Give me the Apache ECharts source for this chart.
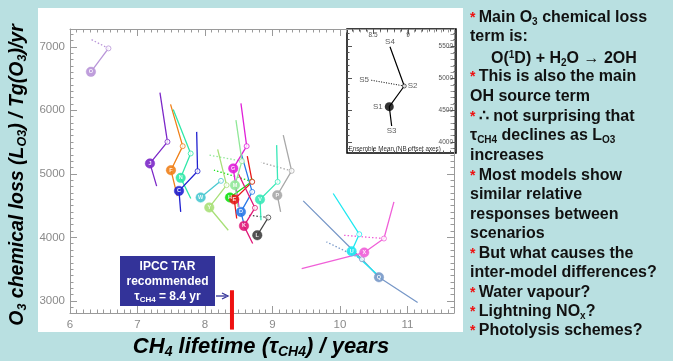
<!DOCTYPE html>
<html>
<head>
<meta charset="utf-8">
<script src="https://cdn.jsdelivr.net/npm/echarts@6/dist/echarts.min.js"></script>
<style>
  html, body { margin: 0; padding: 0; background: #b9e0e1; }
  #chart { width: 673px; height: 361px; }
</style>
</head>
<body>
<div id="chart"></div>
<script>
// Model letters (label inside each filled S1 marker)
const modelIds = ['O', 'J', 'F', 'N', 'C', 'W', 'Y', 'G', 'H', 'E', 'D', 'K', 'V', 'P', 'L', 'Q', 'U', 'X', 'M'];
const modelColors = ['#b894d8', '#7c28c8', '#f08018', '#30e8a8', '#2020d0', '#48c8d0', '#a8e078', '#e020d8', '#10e010',
  '#e81818', '#2878e8', '#e01878', '#38e8b8', '#a8a8a8', '#404040', '#7898c8', '#20e8f0', '#f060d8', '#90e898'];

// Scenario S1 (base) : CH4 lifetime (yr) and O3 chemical loss (Tg/yr)
const s1Tau  = [6.31, 7.185, 7.496, 7.64, 7.615, 7.936, 8.064, 8.419, 8.37, 8.434, 8.533, 8.578, 8.815, 9.071, 8.775, 10.578, 10.173, 10.36, 8.444];
const s1Loss = [6606, 5164, 5058, 4937, 4732, 4628, 4471, 5085, 4628, 4597, 4401, 4181, 4597, 4664, 4034, 3373, 3782, 3762, 4822];
// Scenario S2
const s2Tau  = [6.57, 7.444, 7.67, 7.788, 7.89, 8.237, 8.32, 8.618, 8.696, 8.70, 8.70, 8.741, 9.077, 9.284, 8.938, 10.326, 10.286, 10.652, 8.548];
const s2Loss = [6975, 5504, 5436, 5321, 5042, 4890, 4822, 5436, 4880, 4874, 4716, 4464, 4874, 5047, 4313, 3656, 4050, 3982, 5200];
// Scenario S3
const s3Tau  = [null, 7.284, 7.59, 7.79, 7.64, null, 8.345, 8.504, null, 8.47, 8.60, 8.707, 8.83, 9.121, null, 11.151, 10.618, 9.433, 8.49];
const s3Loss = [null, 4806, 4650, 4612, 4401, null, 4113, 4475, null, 4297, 4110, 3904, 4270, 4401, null, 2974, 3352, 3510, 4480];
// Scenario S4
const s4Tau  = [null, 7.333, 7.49, 7.53, 7.877, null, 8.188, 8.533, null, 8.627, 8.544, 8.493, 9.062, 9.16, null, 9.456, 9.90, 10.80, 8.459];
const s4Loss = [null, 6279, 6093, 6014, 5661, null, 5384, 6109, null, 5279, 5294, 5006, 5452, 5609, null, 4575, 4691, 4559, 5846];
// Scenario S5 (dotted from S2)
const s5Tau  = [6.31, null, null, null, null, null, null, null, 8.133, null, null, null, null, 8.83, 8.652, 9.80, null, 10.049, 8.064];
const s5Loss = [7117, null, null, null, null, null, null, null, 5058, null, null, null, null, 5179, 4349, 3929, null, 4034, 5295];

// Ensemble mean (inset)
const meanNames = ['S1', 'S2', 'S3', 'S4', 'S5'];
const meanTau  = [8.733, 8.947, 8.767, 8.743, 8.457];
const meanLoss = [4552, 4875, 4250, 5489, 4969];

// IPCC TAR recommended CH4 lifetime
const tarTau = 8.4;
const tarBar = [3168, 2549];

// Axis ticks
const xMajor = [6, 7, 8, 9, 10, 11];
const yMajor = [3000, 4000, 5000, 6000, 7000];
const insetXMajor = [8.5, 9];
const insetYMajor = [4000, 4500, 5000, 5500];

const X_MIN = 6, X_MAX = 11.69, Y_MIN = 2810, Y_MAX = 7280;
const IX_MIN = 8.129, IX_MAX = 9.686, IY_MIN = 3828, IY_MAX = 5766;

function steps(a, b, d) {
  const out = [];
  const n = Math.round((b - a) / d);
  for (let i = 0; i <= n; i++) out.push(+(a + i * d).toFixed(4));
  return out;
}
const xMinor = steps(6.1, 11.6, 0.1);
const yMinor = steps(2900, 7200, 100);
const ixMinor = steps(8.2, 9.6, 0.1);
const iyMinor = steps(3900, 5700, 100);

const AX = '#9a9a9a';
function axis(grid, pos, min, max, ticks, len, labels, opts) {
  opts = opts || {};
  return {
    type: 'value', gridIndex: grid, position: pos, min: min, max: max,
    splitLine: { show: false },
    axisLine: { show: !!opts.line, lineStyle: { color: opts.lineColor || AX, width: 1 } },
    axisTick: { show: true, inside: true, length: len, customValues: ticks, lineStyle: { color: opts.tickColor || AX } },
    axisLabel: labels ? { show: true, customValues: labels, color: opts.labelColor || '#8a8a8a', fontSize: opts.fontSize || 11.5,
      fontFamily: 'Liberation Sans, Arial, sans-serif', inside: !!opts.labelInside, margin: opts.margin || 6,
      formatter: v => String(v) } : { show: false }
  };
}

const xAxes = [
  axis(0, 'bottom', X_MIN, X_MAX, xMajor, 7, xMajor, { line: true, margin: 6 }),
  axis(0, 'bottom', X_MIN, X_MAX, xMinor, 3.5, null),
  axis(0, 'top', X_MIN, X_MAX, xMajor, 7, null, { line: true }),
  axis(0, 'top', X_MIN, X_MAX, xMinor, 3.5, null),
  axis(1, 'top', IX_MIN, IX_MAX, insetXMajor, 5, insetXMajor, { labelInside: true, fontSize: 6.5, labelColor: '#555', tickColor: '#555', margin: 3 }),
  axis(1, 'top', IX_MIN, IX_MAX, ixMinor, 2.5, null, { tickColor: '#555' }),
  axis(1, 'bottom', IX_MIN, IX_MAX, insetXMajor, 5, null, { tickColor: '#555' }),
  axis(1, 'bottom', IX_MIN, IX_MAX, ixMinor, 2.5, null, { tickColor: '#555' })
];
const yAxes = [
  axis(0, 'left', Y_MIN, Y_MAX, yMajor, 7, yMajor, { line: true, margin: 5 }),
  axis(0, 'left', Y_MIN, Y_MAX, yMinor, 3.5, null),
  axis(0, 'right', Y_MIN, Y_MAX, yMajor, 7, null, { line: true }),
  axis(0, 'right', Y_MIN, Y_MAX, yMinor, 3.5, null),
  axis(1, 'right', IY_MIN, IY_MAX, insetYMajor, 5, insetYMajor, { labelInside: true, fontSize: 6.5, labelColor: '#555', tickColor: '#555', margin: 3 }),
  axis(1, 'right', IY_MIN, IY_MAX, iyMinor, 2.5, null, { tickColor: '#555' }),
  axis(1, 'left', IY_MIN, IY_MAX, insetYMajor, 5, null, { tickColor: '#555' }),
  axis(1, 'left', IY_MIN, IY_MAX, iyMinor, 2.5, null, { tickColor: '#555' })
];

const pt = (t, l, i) => (t[i] == null ? null : [t[i], l[i]]);
const series = [];
modelIds.forEach((id, i) => {
  const c = modelColors[i];
  const p1 = pt(s1Tau, s1Loss, i), p2 = pt(s2Tau, s2Loss, i), p3 = pt(s3Tau, s3Loss, i),
        p4 = pt(s4Tau, s4Loss, i), p5 = pt(s5Tau, s5Loss, i);
  const path = [p3, p1, p2, p4].filter(Boolean);
  series.push({ type: 'line', xAxisIndex: 0, yAxisIndex: 0, data: path, symbol: 'none', silent: true,
    lineStyle: { color: c, width: 1.3 }, z: 3 });
  if (p5) series.push({ type: 'line', xAxisIndex: 0, yAxisIndex: 0, data: [p2, p5], symbol: 'none', silent: true,
    lineStyle: { color: c, width: 1.3, type: [1.5, 2] }, z: 2 });
  series.push({ type: 'scatter', xAxisIndex: 0, yAxisIndex: 0, data: [p2], symbol: 'circle', symbolSize: 5,
    itemStyle: { color: '#fff', borderColor: c, borderWidth: 1 }, z: 4 });
  series.push({ type: 'scatter', xAxisIndex: 0, yAxisIndex: 0, data: [p1], symbol: 'circle', symbolSize: 9.5,
    itemStyle: { color: c, borderColor: c, borderWidth: 0.5, opacity: 0.9 }, z: 5,
    label: { show: true, position: 'inside', formatter: id, fontSize: 5.5, color: '#fff', fontWeight: 'bold' } });
});

// IPCC TAR recommended lifetime bar
series.push({ type: 'line', xAxisIndex: 0, yAxisIndex: 0, data: tarBar.map(v => [tarTau, v]), symbol: 'none', clip: false,
  lineStyle: { color: '#ee1111', width: 4, cap: 'butt' }, z: 6 });

// Ensemble mean inset
const mp = n => [meanTau[meanNames.indexOf(n)], meanLoss[meanNames.indexOf(n)]];
series.push({ type: 'line', xAxisIndex: 4, yAxisIndex: 4, data: [mp('S3'), mp('S1'), mp('S2'), mp('S4')], symbol: 'none',
  lineStyle: { color: '#000', width: 1.2 }, z: 10 });
series.push({ type: 'line', xAxisIndex: 4, yAxisIndex: 4, data: [mp('S2'), mp('S5')], symbol: 'none',
  lineStyle: { color: '#000', width: 1, type: [1, 1.5] }, z: 10 });
series.push({ type: 'scatter', xAxisIndex: 4, yAxisIndex: 4, data: [mp('S1')], symbolSize: 9, itemStyle: { color: '#000' }, z: 11,
  label: { show: true, position: 'left', distance: 2, formatter: 'S1', fontSize: 8, color: '#333' } });
series.push({ type: 'scatter', xAxisIndex: 4, yAxisIndex: 4, data: [mp('S2')], symbolSize: 4, itemStyle: { color: '#fff', borderColor: '#000', borderWidth: 0.8 }, z: 11,
  label: { show: true, position: 'right', distance: 1, formatter: 'S2', fontSize: 8, color: '#333' } });
series.push({ type: 'scatter', xAxisIndex: 4, yAxisIndex: 4, data: [mp('S3')], symbolSize: 0.1, z: 11,
  label: { show: true, position: 'bottom', distance: 1, formatter: 'S3', fontSize: 8, color: '#333' } });
series.push({ type: 'scatter', xAxisIndex: 4, yAxisIndex: 4, data: [mp('S4')], symbolSize: 0.1, z: 11,
  label: { show: true, position: 'top', distance: 1, formatter: 'S4', fontSize: 8, color: '#333' } });
series.push({ type: 'scatter', xAxisIndex: 4, yAxisIndex: 4, data: [mp('S5')], symbolSize: 0.1, z: 11,
  label: { show: true, position: 'left', distance: 1, formatter: 'S5', fontSize: 8, color: '#333' } });

const F = 'Liberation Sans, Arial, sans-serif';
const R = '#ee1111';
function tok(size, col, extra) {
  return Object.assign({ fontSize: size, fontWeight: 'bold', fontFamily: F, fill: col, color: col }, extra || {});
}
const rich = {
  a: tok(16, '#111'),
  r: tok(14, R),
  s: tok(10, '#111', { padding: [8, 0, 0, 0] }),
  u: tok(10, '#111', { padding: [0, 0, 7, 0] })
};
const notes = [
  [470, 18, '{r|*} {a|Main O}{s|3}{a| chemical loss}'],
  [470, 37, '{a|term is:}'],
  [491, 59, '{a|O(}{u|1}{a|D) + H}{s|2}{a|O → 2OH}'],
  [470, 77, '{r|*} {a|This is also the main}'],
  [470, 97, '{a|OH source term}'],
  [470, 117, '{r|*} {a|∴ not surprising that}'],
  [470, 136, '{a|τ}{s|CH4}{a| declines as L}{s|O3}'],
  [470, 156, '{a|increases}'],
  [470, 176, '{r|*} {a|Most models show}'],
  [470, 195, '{a|similar relative}'],
  [470, 215, '{a|responses between}'],
  [470, 234, '{a|scenarios}'],
  [470, 254, '{r|*} {a|But what causes the}'],
  [470, 273, '{a|inter-model differences?}'],
  [470, 293, '{r|*} {a|Water vapour?}'],
  [470, 312, '{r|*} {a|Lightning NO}{s|x}{a|?}'],
  [470, 331, '{r|*} {a|Photolysis schemes?}']
];

const titleRich = {
  t: tok(22, '#000', { fontStyle: 'italic' }),
  ts: tok(14, '#000', { fontStyle: 'italic', padding: [10, 0, 0, 0] })
};
const yTitleRich = {
  t: tok(19.5, '#000', { fontStyle: 'italic' }),
  ts: tok(12.5, '#000', { fontStyle: 'italic', padding: [9, 0, 0, 0] })
};
const boxRich = {
  w: tok(12, '#fff'),
  ws: tok(8, '#fff', { padding: [6, 0, 0, 0] })
};

const graphic = [
  { type: 'rect', shape: { x: 38, y: 8, width: 425, height: 324 }, style: { fill: '#fff' }, z: -10, silent: true },
  // inset panel
  { type: 'rect', shape: { x: 347, y: 29, width: 109, height: 124 }, style: { fill: '#fff', stroke: '#000', lineWidth: 1.5 }, z: 0, silent: true },
  { type: 'text', x: 348.5, y: 149, style: { text: 'Ensemble Mean (NB offset axes)', font: '6.3px ' + F, fill: '#333', textVerticalAlign: 'middle' }, z: 20 },
  // IPCC box
  { type: 'rect', shape: { x: 120, y: 256, width: 95, height: 50 }, style: { fill: '#333399' }, z: 20 },
  { type: 'text', x: 167.5, y: 266.5, style: { text: '{w|IPCC TAR}', rich: boxRich, textAlign: 'center', textVerticalAlign: 'middle' }, z: 21 },
  { type: 'text', x: 167.5, y: 282, style: { text: '{w|recommended}', rich: boxRich, textAlign: 'center', textVerticalAlign: 'middle' }, z: 21 },
  { type: 'text', x: 167.5, y: 297, style: { text: '{w|τ}{ws|CH4}{w| = 8.4 yr}', rich: boxRich, textAlign: 'center', textVerticalAlign: 'middle' }, z: 21 },
  { type: 'line', shape: { x1: 216, y1: 296, x2: 226, y2: 296 }, style: { stroke: '#333399', lineWidth: 1.3 }, z: 21 },
  { type: 'polyline', shape: { points: [[222, 293], [228, 296], [222, 299]] }, style: { stroke: '#333399', lineWidth: 1.3, fill: null }, z: 21 },
  // axis titles
  { type: 'text', x: 261, y: 347, style: { text: '{t|CH}{ts|4}{t| lifetime (τ}{ts|CH4}{t|) / years}', rich: titleRich, textAlign: 'center', textVerticalAlign: 'middle' }, z: 21 },
  { type: 'text', x: 18, y: 175, rotation: Math.PI / 2, style: { text: '{t|O}{ts|3}{t| chemical loss (L}{ts|O3}{t|) / Tg(O}{ts|3}{t|)/yr}', rich: yTitleRich,
    textAlign: 'center', textVerticalAlign: 'middle' }, z: 21 }
];
notes.forEach(n => graphic.push({ type: 'text', x: n[0], y: n[1], style: { text: n[2], rich: rich, textVerticalAlign: 'middle' }, z: 21 }));

const chart = echarts.init(document.getElementById('chart'), null, { renderer: 'canvas' });
chart.setOption({
  animation: false,
  backgroundColor: '#b9e0e1',
  grid: [
    { left: 70, top: 29, width: 384, height: 284, containLabel: false },
    { left: 347, top: 29, width: 109, height: 124, containLabel: false, z: 5 }
  ],
  xAxis: xAxes,
  yAxis: yAxes,
  series: series,
  graphic: graphic
});
</script>
</body>
</html>
